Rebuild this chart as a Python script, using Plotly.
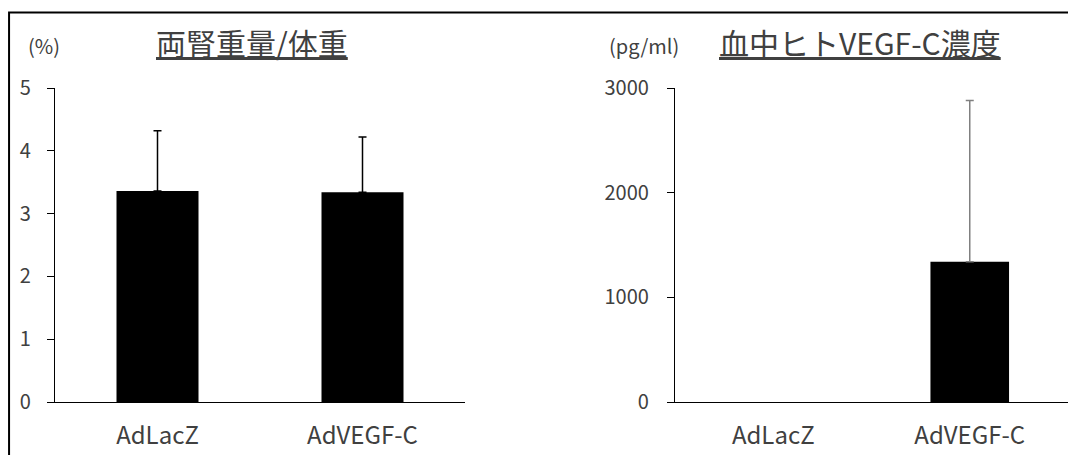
import plotly.graph_objects as go

categories = ["AdLacZ", "AdVEGF-C"]
kidney_ratio = [3.36, 3.34]
kidney_err = [0.96, 0.88]
vegfc_conc = [0, 1340]
vegfc_err = [0, 1540]

left_title = "両腎重量/体重"
right_title = "血中ヒトVEGF-C濃度"
left_unit = "(%)"
right_unit = "(pg/ml)"
left_ticks = [0, 1, 2, 3, 4, 5]
right_ticks = [0, 1000, 2000, 3000]

# page body has an 8px margin; figure is drawn at (8, 8)
OFF = 8
W, H = 1060, 447
FONT = "Noto Sans CJK JP"
TXT = "#404040"

def px(x):
    return (x - OFF) / W

def py(y):
    return 1 - (y - OFF) / H

fig = go.Figure()
fig.add_trace(go.Bar(
    x=categories, y=kidney_ratio, width=0.4,
    marker=dict(color="black", line=dict(width=0)),
    error_y=dict(type="data", array=kidney_err, arrayminus=[0, 0], symmetric=False,
                 color="black", thickness=1.5, width=4),
    xaxis="x", yaxis="y", showlegend=False))
fig.add_trace(go.Bar(
    x=categories, y=vegfc_conc, width=0.4,
    marker=dict(color="black", line=dict(width=0)),
    xaxis="x2", yaxis="y2", showlegend=False))

# error bars only where an error exists
err_idx = [i for i, e in enumerate(vegfc_err) if e]
fig.add_trace(go.Scatter(
    x=[categories[i] for i in err_idx], y=[vegfc_conc[i] for i in err_idx],
    mode="markers", marker=dict(opacity=0, size=1),
    error_y=dict(type="data", array=[vegfc_err[i] for i in err_idx],
                 arrayminus=[0 for i in err_idx], symmetric=False,
                 color="#808080", thickness=1.5, width=4),
    xaxis="x2", yaxis="y2", showlegend=False, hoverinfo="skip"))

axis_common = dict(showgrid=False, zeroline=False, showline=True, linecolor="black",
                   linewidth=1.3, automargin=False)

fig.update_layout(
    width=W, height=H,
    margin=dict(l=0, r=0, t=0, b=0),
    paper_bgcolor="white", plot_bgcolor="white",
    font=dict(family=FONT, color=TXT),
    xaxis=dict(domain=[px(55), px(465)], anchor="y", ticks="", tickfont=dict(size=24),
               ticklabelstandoff=12, **axis_common),
    yaxis=dict(domain=[py(402), py(88)], anchor="x", range=[0, 5], tickvals=left_ticks,
               ticks="outside", ticklen=7, tickcolor="black", tickfont=dict(size=20),
               ticklabelstandoff=12, **axis_common),
    xaxis2=dict(domain=[px(675), px(1068)], anchor="y2", ticks="", tickfont=dict(size=24),
                ticklabelstandoff=12, **axis_common),
    yaxis2=dict(domain=[py(402), py(88)], anchor="x2", range=[0, 3000], tickvals=right_ticks,
                ticks="outside", ticklen=7, tickcolor="black", tickfont=dict(size=20),
                ticklabelstandoff=14, **axis_common),
    shapes=[dict(type="rect", xref="paper", yref="paper",
                 x0=px(8) + 0.001, x1=1.02, y0=-0.02, y1=py(12.5),
                 line=dict(color="black", width=2), fillcolor="rgba(0,0,0,0)")],
    annotations=[
        dict(text=left_unit, xref="paper", yref="paper", x=px(44), y=py(45),
             xanchor="center", yanchor="middle", showarrow=False, font=dict(size=20)),
        dict(text="<u>" + left_title + "</u>", xref="paper", yref="paper", x=px(252), y=py(42),
             xanchor="center", yanchor="middle", showarrow=False, font=dict(size=30)),
        dict(text=right_unit, xref="paper", yref="paper", x=px(644), y=py(45),
             xanchor="center", yanchor="middle", showarrow=False, font=dict(size=20)),
        dict(text="<u>" + right_title + "</u>", xref="paper", yref="paper", x=px(860), y=py(42),
             xanchor="center", yanchor="middle", showarrow=False, font=dict(size=30)),
    ],
)

fig.write_html("out.html")
